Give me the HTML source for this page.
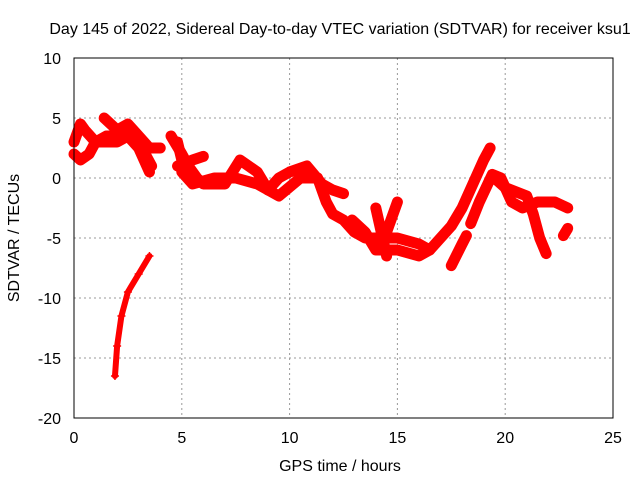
<!DOCTYPE html>
<html><head><meta charset="utf-8"><style>
body{margin:0;background:#fff;font-family:"Liberation Sans",sans-serif}
svg text{font-family:"Liberation Sans",sans-serif;font-size:16px;fill:#000}
</style></head><body>
<svg width="640" height="480" id="c">
<text x="340" y="34" text-anchor="middle">Day 145 of 2022, Sidereal Day-to-day VTEC variation (SDTVAR) for receiver ksu1</text>
<text x="340" y="471" text-anchor="middle">GPS time / hours</text>
<text transform="translate(19,238) rotate(-90)" text-anchor="middle">SDTVAR / TECUs</text>
<g id="grid"></g><g id="marks"></g>
<rect x="74" y="58" width="539" height="360" fill="none" stroke="#000"/>
</svg>
<script>
const xTicks=[0,5,10,15,20,25];
const yTicks=[10,5,0,-5,-10,-15,-20];
const trackA=[[0,3],[0.3,4.5],[0.5,4],[1,3],[1.5,3.5],[2,3.5],[2.5,4.2],[3,3],[3.3,2],[3.6,1]];
const trackB=[[0,2],[0.3,1.5],[0.7,2],[1,3],[1.5,3],[2,3],[2.5,3.5],[3,2.5],[3.5,0.5]];
const trackC=[[1.4,5],[2,4],[2.5,4.5],[3.5,2.5],[4,2.5]];
const trackD=[[4.5,3.5],[5,2],[5.3,1],[5.7,0],[6,-0.5],[7,-0.5],[7.7,1.5],[8.5,0.5],[9,-1],[9.5,0],[10,0.5],[10.8,1],[11.5,-0.5],[12,-1],[12.5,-1.3]];
const trackE=[[4.8,3],[5,1.5],[5,0.5],[5.5,-0.5],[6.5,0],[7.5,0],[8.5,-0.5],[9.5,-1.5],[10.5,0],[11.3,0],[11.7,-2],[12,-3],[12.5,-3.5],[13,-4.5],[13.5,-5],[14,-5],[15,-5],[16,-5.5],[16.5,-6]];
const trackF=[[4.8,1],[5.5,1.5],[6,1.8]];
const trackG=[[12.9,-3.5],[13.5,-4.5],[14,-6],[15,-6],[16,-6.5],[16.5,-6],[17,-5],[17.5,-4],[18,-2.5],[18.5,-0.5],[19,1.5],[19.3,2.5]];
const trackH=[[14,-2.5],[14.5,-6.5]];
const trackI=[[15,-2],[14.2,-6]];
const trackJ=[[17.5,-7.3],[18,-5.5],[18.2,-4.8]];
const trackK=[[18.4,-3.8],[18.8,-2],[19.4,0.3],[19.8,0],[20.3,-2],[20.8,-2.5],[21.5,-2],[22.3,-2],[22.9,-2.5]];
const trackL=[[19.5,0],[20,-0.8],[21,-1.5],[21.3,-3],[21.6,-5],[21.9,-6.3]];
const trackM=[[22.7,-4.8],[22.9,-4.2]];
const trackN=[[1.9,-16.5],[2,-14],[2.2,-11.5],[2.5,-9.5],[3,-8],[3.5,-6.5]];
const tracks=[trackA,trackB,trackC,trackD,trackE,trackF,trackG,trackH,trackI,trackJ,trackK,trackL,trackM,trackN];
const X=v=>74+v*539/25, Y=v=>58+(10-v)*12;
const ns="http://www.w3.org/2000/svg";
const grid=document.getElementById('grid'), marks=document.getElementById('marks');
function mk(t,a,p){const e=document.createElementNS(ns,t);for(const k in a)e.setAttribute(k,a[k]);p.appendChild(e);return e;}
xTicks.forEach(v=>{
 if(v>0&&v<25){const l=mk('line',{x1:X(v),x2:X(v),y1:58,y2:418,stroke:'#999','stroke-dasharray':'2,3'},grid);
 
 }
 const t=mk('text',{x:X(v),y:443,'text-anchor':'middle'},grid);t.textContent=v;
 
 
});
yTicks.forEach(v=>{
 if(v<10&&v>-20){const l=mk('line',{x1:74,x2:613,y1:Y(v),y2:Y(v),stroke:'#999','stroke-dasharray':'2,3'},grid);
 
 }
 const t=mk('text',{x:61,y:Y(v)+6,'text-anchor':'end'},grid);t.textContent=v;
 
 
});
tracks.forEach((tr,i)=>{
 const p=mk('polyline',{points:tr.map(d=>X(d[0])+','+Y(d[1])).join(' '),fill:'none',stroke:'#f00','stroke-width':i===13?6:11,'stroke-linejoin':'round','stroke-linecap':'round'},marks);
 
 
 tr.forEach(d=>{const g=mk('path',{d:`M${X(d[0])-4},${Y(d[1])}h8M${X(d[0])},${Y(d[1])-4}v8`,stroke:'#f00','stroke-width':1.5},marks);
 
 });
});
</script>
</body></html>
